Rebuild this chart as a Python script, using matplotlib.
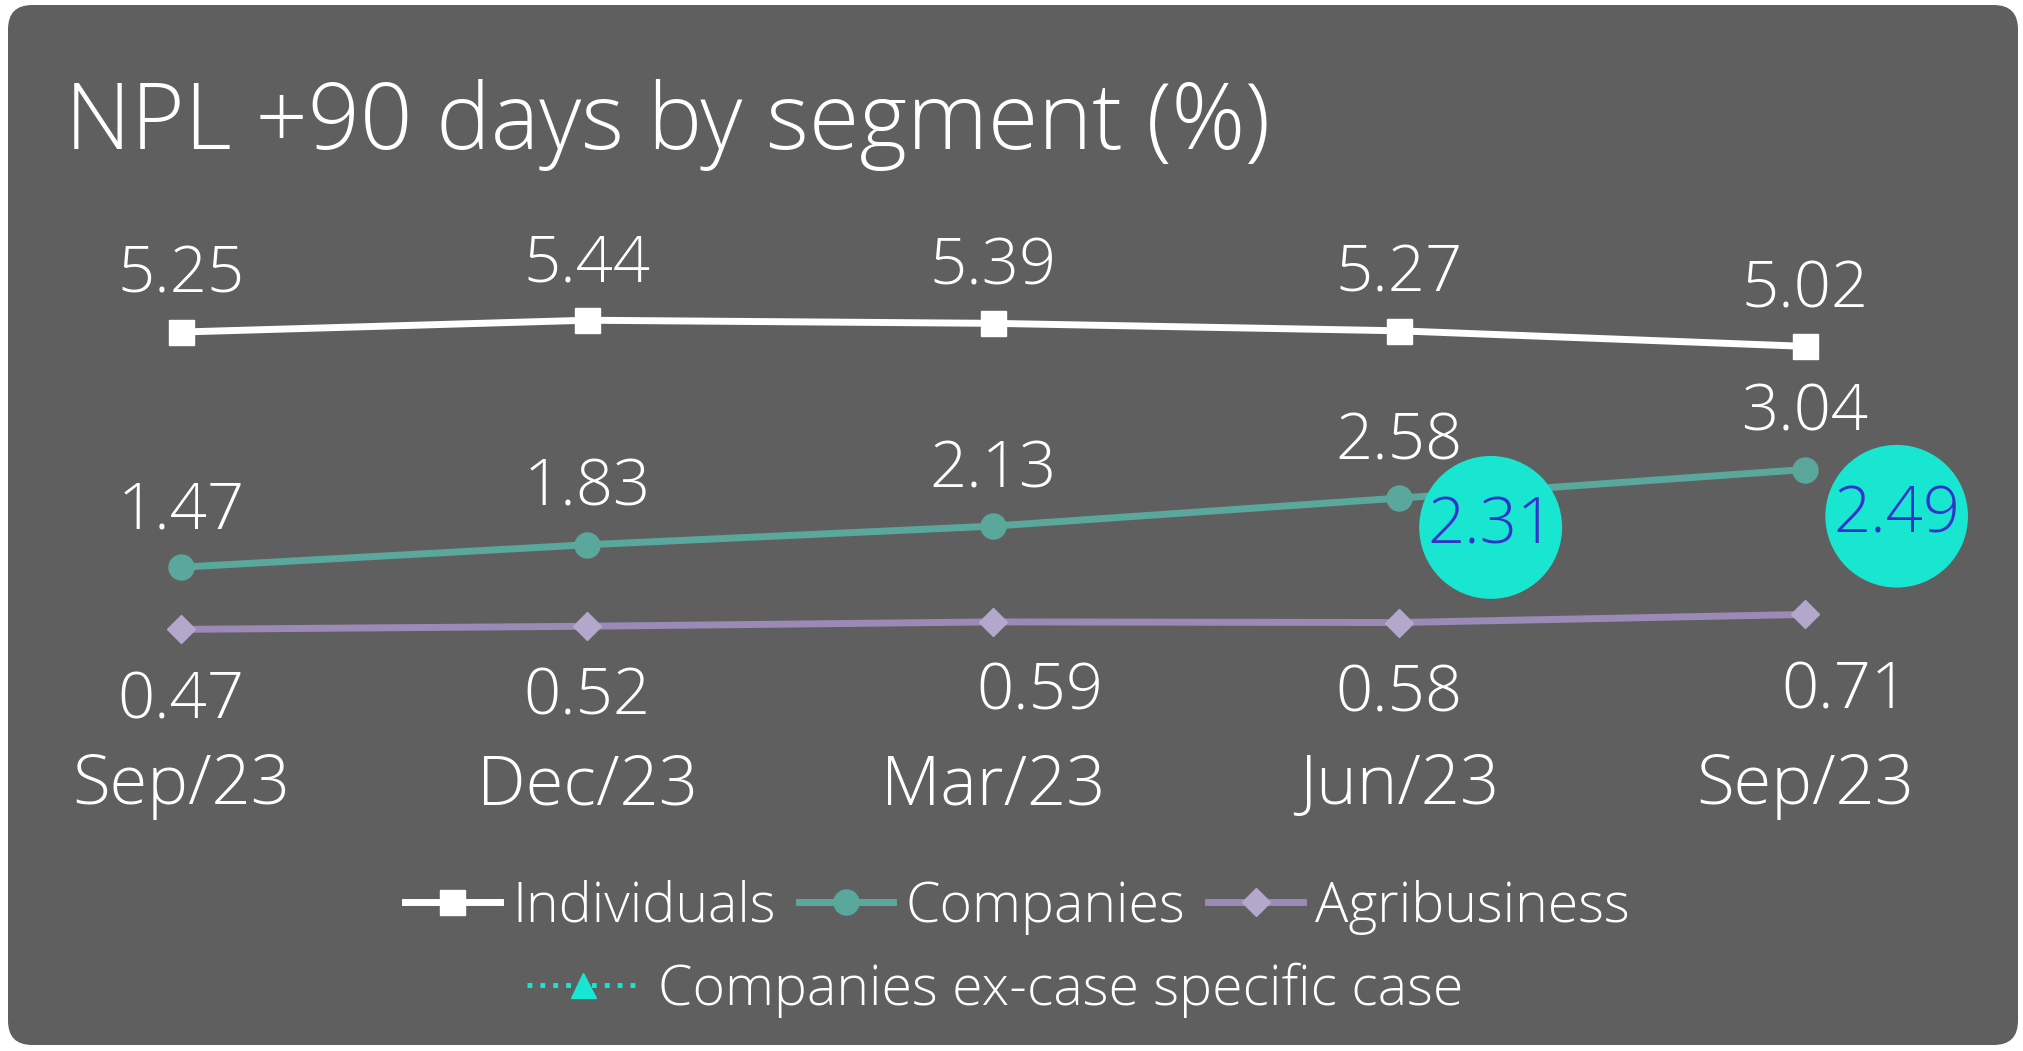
import matplotlib.pyplot as plt
from matplotlib.patches import FancyBboxPatch
from matplotlib.lines import Line2D

plt.rcParams['font.family'] = ['Open Sans', 'DejaVu Sans']
plt.rcParams['font.weight'] = 300

# dados
quarters = ['Sep/23', 'Dec/23', 'Mar/23', 'Jun/23', 'Sep/23']
individuals = [5.25, 5.44, 5.39, 5.27, 5.02]
companies = [1.47, 1.83, 2.13, 2.58, 3.04]
agribusiness = [0.47, 0.52, 0.59, 0.58, 0.71]
companies_ex = [None, None, None, 2.31, 2.49]

bg = '#5f5f5f'
c_ind = 'white'
c_comp = '#5aa89c'
c_agri = '#9a8ab5'
c_agri_mk = '#b3a8cc'
c_ex = '#19e6d0'
c_ex_txt = '#3333cc'

fig = plt.figure(figsize=(20.23, 10.51), dpi=100)
fig.patch.set_facecolor('white')

# painel cinza arredondado
panel = FancyBboxPatch((8 / 2023, 6 / 1051), 2010 / 2023, 1040 / 1051,
                       boxstyle='round,pad=0,rounding_size=0.012',
                       transform=fig.transFigure, facecolor=bg, edgecolor='none',
                       mutation_aspect=2023 / 1051, zorder=-5)
fig.patches.append(panel)

fig.text(65 / 2023, 1 - 125 / 1051, 'NPL +90 days by segment (%)', color='white',
         fontsize=66, va='center', ha='left')

ax = fig.add_axes([0, 1 - 730 / 1051, 1, 530 / 1051])
ax.set_facecolor('none')
ax.set_zorder(2)
x = list(range(len(quarters)))

ax.plot(x, individuals, color=c_ind, lw=5, marker='s', ms=18, mfc=c_ind, mec=c_ind, zorder=3)
ax.plot(x, companies, color=c_comp, lw=5, marker='o', ms=18, mfc=c_comp, mec=c_comp, zorder=3)
ax.plot(x, agribusiness, color=c_agri, lw=5, marker='D', ms=14, mfc=c_agri_mk, mec=c_agri_mk, zorder=3)

# rótulos
for i, v in enumerate(individuals):
    ax.annotate(f'{v:.2f}', (i, v), xytext=(0, 40), textcoords='offset points',
                ha='center', va='center', color='white', fontsize=47)
for i, v in enumerate(companies):
    ax.annotate(f'{v:.2f}', (i, v), xytext=(0, 40), textcoords='offset points',
                ha='center', va='center', color='white', fontsize=47)
agri_dx = [0, 0, 34, 0, 29]
agri_dy = [-52, -52, -51, -52, -56]
for i, v in enumerate(agribusiness):
    ax.annotate(f'{v:.2f}', (i, v), xytext=(agri_dx[i], agri_dy[i]), textcoords='offset points',
                ha='center', va='center', color='white', fontsize=47)
for i, v in enumerate(companies_ex):
    if v is None:
        continue
    ax.annotate(f'{v:.2f}', (i, v), xytext=(66, -9), textcoords='offset points',
                ha='center', va='center', color=c_ex_txt, fontsize=47, zorder=5,
                bbox=dict(boxstyle='circle,pad=0.12', fc=c_ex, ec='none'))

y0, k = 658.6, 62.2
ax.set_xlim(-181 / 406, 4 + 218 / 406)
ax.set_ylim((y0 - 730) / k, (y0 - 200) / k)
ax.set_xticks(x)
ax.set_xticklabels(quarters, fontsize=49.5, color='white')
ax.tick_params(axis='x', length=0, pad=16)
ax.set_yticks([])
for s in ax.spines.values():
    s.set_visible(False)

h1 = [Line2D([], [], color=c_ind, lw=5, marker='s', ms=18),
      Line2D([], [], color=c_comp, lw=5, marker='o', ms=18),
      Line2D([], [], color=c_agri, lw=5, marker='D', ms=14, mfc=c_agri_mk, mec=c_agri_mk)]
leg1 = fig.legend(h1, ['Individuals', 'Companies', 'Agribusiness'], ncol=3,
                  loc='center', bbox_to_anchor=(0.503, 0.137), frameon=False,
                  fontsize=40, labelcolor='white', handlelength=1.7,
                  handletextpad=0.22, columnspacing=0.42)
h2 = [Line2D([], [], color=c_ex, lw=3.5, ls=':', marker='^', ms=18, mfc=c_ex, mec=c_ex)]
fig.legend(h2, ['Companies ex-case specific case'], loc='center',
           bbox_to_anchor=(0.492, 0.058), frameon=False, fontsize=40,
           labelcolor='white', handlelength=2.0, handletextpad=0.35)

plt.savefig('out.png', dpi=100)
